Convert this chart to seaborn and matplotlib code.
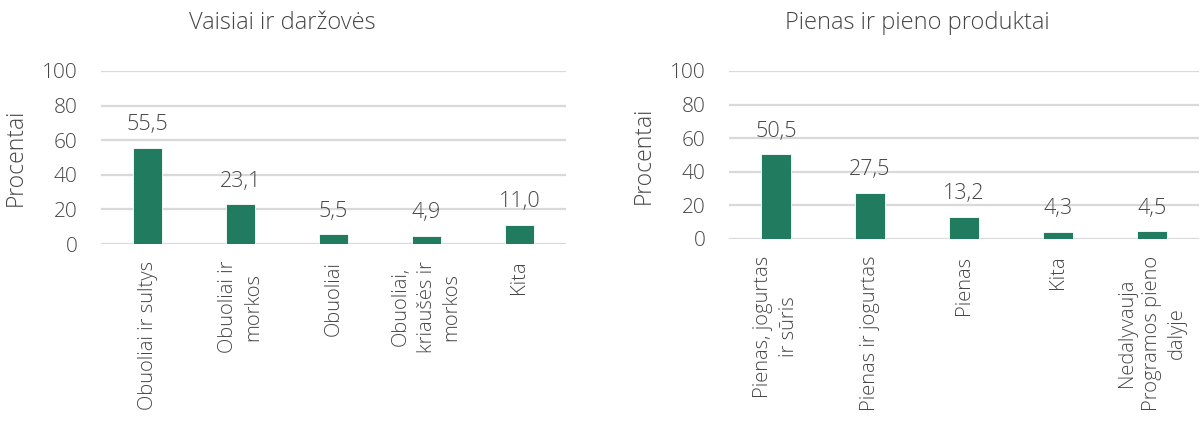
import matplotlib
matplotlib.use("Agg")
import matplotlib.pyplot as plt
import seaborn as sns
import pandas as pd

# Chart data
veg_title = "Vaisiai ir daržovės"
veg_categories = ["Obuoliai ir sultys", "Obuoliai ir\nmorkos", "Obuoliai",
                  "Obuoliai,\nkriaušės ir\nmorkos", "Kita"]
veg_values = [55.5, 23.1, 5.5, 4.9, 11.0]

milk_title = "Pienas ir pieno produktai"
milk_categories = ["Pienas, jogurtas\nir sūris", "Pienas ir jogurtas", "Pienas",
                   "Kita", "Nedalyvauja\nProgramos pieno\ndalyje"]
milk_values = [50.5, 27.5, 13.2, 4.3, 4.5]

y_ticks = [0, 20, 40, 60, 80, 100]
y_label = "Procentai"

BAR = "#217c5f"
TEXT = "#464646"
GRID = "#d9d9d9"
FONT = "Open Sans"
WEIGHT = "light"

sns.set_theme(style="white")
plt.rcParams["font.family"] = [FONT, "DejaVu Sans"]

W, H = 1201, 421
fig = plt.figure(figsize=(W / 100, H / 100), dpi=100)


def px_axes(x0, x1, ytop, ybot):
    return fig.add_axes([x0 / W, (H - ybot) / H, (x1 - x0) / W, (ybot - ytop) / H])


def draw(ax, cats, vals):
    df = pd.DataFrame({"cat": cats, "val": vals})
    sns.barplot(data=df, x="cat", y="val", color=BAR, width=0.31,
                saturation=1, ax=ax, edgecolor="white", linewidth=0.6)
    ax.set_ylim(0, 100)
    ax.set_yticks(y_ticks)
    ax.set_xlim(-0.5, len(cats) - 0.5)
    for s in ax.spines.values():
        s.set_visible(False)
    ax.yaxis.grid(True, color=GRID, linewidth=1.6)
    ax.set_axisbelow(True)
    ax.tick_params(axis="both", length=0, colors=TEXT)
    ax.tick_params(axis="y", labelsize=15, pad=17)
    ax.tick_params(axis="x", pad=12)
    ax.set_xticks(range(len(cats)))
    ax.set_xticklabels(cats, rotation=90, fontsize=14.5, color=TEXT,
                       ha="center", va="top", multialignment="center",
                       fontweight=WEIGHT, linespacing=1.35)
    for lab in ax.get_yticklabels():
        lab.set_fontweight(WEIGHT)
    ax.set_xlabel("")
    ax.set_ylabel(y_label, fontsize=16.5, color=TEXT, fontweight=WEIGHT, labelpad=10)
    for i, v in enumerate(vals):
        ax.annotate(f"{v:.1f}".replace(".", ","), (i, v), xytext=(0, 9),
                    textcoords="offset points", ha="center", va="bottom",
                    fontsize=15.5, color=TEXT, fontweight=WEIGHT)


ax1 = px_axes(101, 566, 71, 244)
draw(ax1, veg_categories, veg_values)
ax2 = px_axes(729, 1199, 71, 239)
draw(ax2, milk_categories, milk_values)

fig.text(282 / W, 1 - 23 / H, veg_title, ha="center", va="center",
         fontsize=17, color=TEXT, fontweight=WEIGHT)
fig.text(917 / W, 1 - 23 / H, milk_title, ha="center", va="center",
         fontsize=17, color=TEXT, fontweight=WEIGHT)

fig.savefig("out.png", dpi=100, facecolor="white")
